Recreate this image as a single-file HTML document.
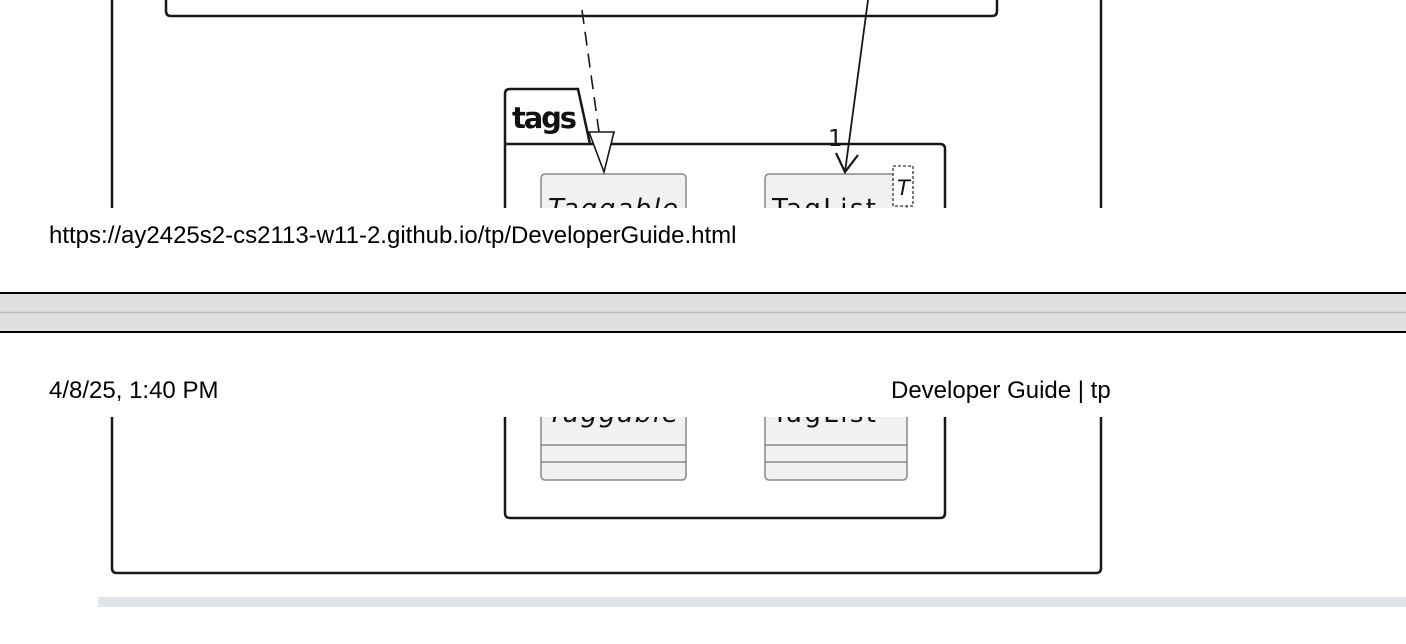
<!DOCTYPE html>
<html><head><style>
html,body{margin:0;padding:0;background:#fff;width:1406px;height:644px;overflow:hidden;position:relative;font-family:"Liberation Sans",sans-serif}
svg{position:absolute;left:0;top:0}
.t{position:absolute;font-size:24px;color:#000;white-space:nowrap}
</style></head><body>
<svg width="1406" height="644" viewBox="0 0 1406 644">
<defs>
<clipPath id="top"><rect x="0" y="0" width="1406" height="208"/></clipPath>
<clipPath id="bot"><rect x="0" y="417" width="1406" height="227"/></clipPath>
</defs>
<g clip-path="url(#top)" stroke="#181818" fill="none">
<line x1="112" y1="-5" x2="112" y2="260" stroke-width="2.5"/>
<line x1="1101" y1="-5" x2="1101" y2="260" stroke-width="2.5"/>
<path d="M166,-5 V11 Q166,16 171,16 H992 Q997,16 997,11 V-5" stroke-width="2.5"/>
<path d="M505,260 V94 Q505,89 510,89 H578 L590,144 H940 Q945,144 945,149 V260" stroke-width="2.5"/>
<line x1="505" y1="144" x2="590" y2="144" stroke-width="2.5"/>
<rect x="541" y="174" width="145" height="80" rx="4" fill="#f1f1f1" stroke="#888" stroke-width="1.5"/>
<rect x="765" y="174" width="142" height="80" rx="4" fill="#f1f1f1" stroke="#888" stroke-width="1.5"/>
<rect x="893" y="166" width="20" height="40" fill="#fff" stroke="#333" stroke-dasharray="3,2" stroke-width="1.3"/>
<line x1="582" y1="10" x2="599" y2="132" stroke-width="1.6" stroke-dasharray="14,8"/>
<polygon points="589,132 614,132 604,172" fill="#fff" stroke-width="1.6"/>
<line x1="868" y1="0" x2="845" y2="172" stroke-width="1.8"/>
<polyline points="836,153 845,172 858,155" stroke-width="2.2"/>
<text x="828" y="146" font-size="23" fill="#181818" stroke="none" font-family="DejaVu Sans,sans-serif">1</text>
<text x="512" y="128" font-size="29" font-weight="bold" fill="#111" stroke="none" font-family="DejaVu Sans,sans-serif" textLength="65">tags</text>
<text x="548" y="217" font-size="26" font-style="italic" fill="#111" stroke="none" font-family="DejaVu Sans,sans-serif" textLength="130">Taggable</text>
<text x="772" y="217" font-size="26" fill="#111" stroke="none" font-family="DejaVu Sans,sans-serif" textLength="104">TagList</text>
<text x="897" y="195" font-size="21" font-style="italic" fill="#111" stroke="none" font-family="DejaVu Sans,sans-serif">T</text>
</g>
<g clip-path="url(#bot)" stroke="#181818" fill="none">
<path d="M112,380 V568 Q112,573 117,573 H1096 Q1101,573 1101,568 V380" stroke-width="2.5"/>
<path d="M505,380 V513 Q505,518 510,518 H940 Q945,518 945,513 V380" stroke-width="2.5"/>
<rect x="541" y="380" width="145" height="100" rx="4" fill="#f1f1f1" stroke="#888" stroke-width="1.5"/>
<rect x="765" y="380" width="142" height="100" rx="4" fill="#f1f1f1" stroke="#888" stroke-width="1.5"/>
<line x1="541" y1="445" x2="686" y2="445" stroke="#888" stroke-width="1.5"/>
<line x1="541" y1="462" x2="686" y2="462" stroke="#888" stroke-width="1.5"/>
<line x1="765" y1="445" x2="907" y2="445" stroke="#888" stroke-width="1.5"/>
<line x1="765" y1="462" x2="907" y2="462" stroke="#888" stroke-width="1.5"/>
<text x="548" y="422" font-size="26" font-style="italic" fill="#111" stroke="none" font-family="DejaVu Sans,sans-serif" textLength="130">Taggable</text>
<text x="772" y="422" font-size="26" fill="#111" stroke="none" font-family="DejaVu Sans,sans-serif" textLength="104">TagList</text>
</g>
<rect x="0" y="293" width="1406" height="39" fill="#e0e0e0"/>
<line x1="0" y1="293" x2="1406" y2="293" stroke="#000" stroke-width="2"/>
<line x1="0" y1="312.5" x2="1406" y2="312.5" stroke="#bbb" stroke-width="1.5"/>
<line x1="0" y1="332" x2="1406" y2="332" stroke="#000" stroke-width="2"/>
<rect x="98" y="597" width="1308" height="10" fill="#e1e4e8"/>
</svg>
<div class="t" style="left:49px;top:222px">https://ay2425s2-cs2113-w11-2.github.io/tp/DeveloperGuide.html</div>
<div class="t" style="left:49px;top:377px">4/8/25, 1:40 PM</div>
<div class="t" style="left:891px;top:377px">Developer Guide | tp</div>
</body></html>
